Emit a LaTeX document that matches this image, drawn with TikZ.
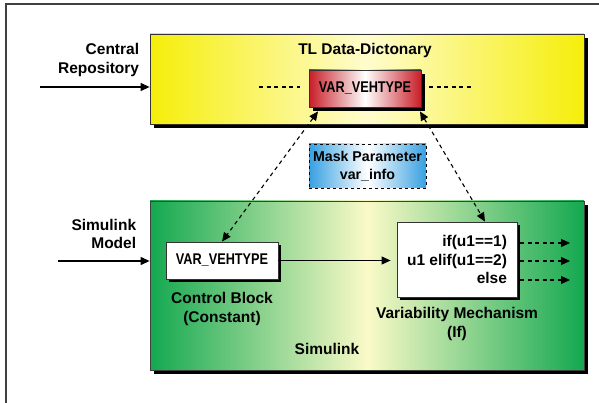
\documentclass[tikz,border=0pt]{standalone}
\usepackage{fontspec}
\setmainfont{Liberation Sans}
\newfontfamily\narrowfont[FakeStretch=0.82]{Liberation Sans}
\usetikzlibrary{arrows.meta,positioning,shadows}

\definecolor{dictyellow}{RGB}{245,238,10}
\definecolor{dictlight}{RGB}{255,252,205}
\definecolor{simgreen}{RGB}{20,168,80}
\definecolor{simlight}{RGB}{250,250,200}
\definecolor{varred}{RGB}{200,30,40}
\definecolor{maskblue}{RGB}{55,160,225}

\begin{document}
\begin{tikzpicture}[x=1pt, y=-1pt, >={Triangle[length=9pt,width=8pt]}, line width=1.1pt,
  every node/.style={font=\bfseries\fontsize{15.5}{18.5}\selectfont}]
% styles
\tikzstyle{shad}=[drop shadow={shadow xshift=4pt,shadow yshift=-4pt,fill=black,opacity=1}]
\tikzstyle{dict}=[rectangle,draw=black!80,line width=0.8pt,shad,left color=dictyellow,right color=dictyellow,middle color=dictlight]
\tikzstyle{sim}=[rectangle,draw=black!75,line width=0.8pt,shad,left color=simgreen,right color=simgreen,middle color=simlight]
\tikzstyle{varbox}=[rectangle,draw=black!80,line width=0.8pt,shad,left color=varred,right color=varred,middle color=white,minimum width=112pt,minimum height=37pt,font=\narrowfont\bfseries\fontsize{15.5}{18}\selectfont]
\tikzstyle{mask}=[rectangle,draw,dashed,line width=0.8pt,left color=maskblue,right color=maskblue,middle color=white,minimum width=117pt,minimum height=44pt,align=center,font=\bfseries\fontsize{14.2}{18}\selectfont]
\tikzstyle{block}=[rectangle,draw=black!80,line width=0.8pt,fill=white,drop shadow={shadow xshift=3pt,shadow yshift=-3pt,fill=black,opacity=1},minimum width=112pt,minimum height=37pt]
\tikzstyle{conn}=[dashed,dash pattern=on 4pt off 3.5pt]

\useasboundingbox (0,0) rectangle (599,403);
\fill[white] (0,0) rectangle (599,403);

% frame
\draw[line width=1.4pt,black!75] (6,410) -- (6,4) -- (610,4);

% data dictionary
\node[dict,minimum width=434pt,minimum height=90pt] (dict) at (367,79) {};
\node (dicttitle) at (365,50) {TL Data-Dictonary};
\node[varbox] (var) at (365,88.5) {VAR\_VEHTYPE};
\coordinate (dl) at (259,87);
\coordinate (dr) at (472,87);
\draw[conn] (dl) -- ([xshift=-9pt]dl -| var.west);
\draw[conn] ([xshift=8pt]dr -| var.east) -- (dr);

% repository input
\node[anchor=east,align=right] (repolbl) at (143,60) {Central\\Repository};
\coordinate (repoin) at (40,87);
\draw[->] (repoin) -- (repoin -| dict.west);

% mask parameter
\node[mask] (mask) at (367.5,166) {Mask Parameter\\var\_info};

% simulink model
\node[sim,minimum width=434pt,minimum height=169pt] (sim) at (367,285.5) {};
\node (simlbl) at (327,349) {Simulink};
\node[anchor=east,align=right] (modellbl) at (140,234) {Simulink\\Model};
\coordinate (simin) at (58,261);
\draw[->] (simin) -- (simin -| sim.west);

% blocks
\node[block,font=\narrowfont\bfseries\fontsize{15.5}{18}\selectfont] (ctrl) at (222,260.5) {VAR\_VEHTYPE};
\node[align=center] (ctrllbl) at (222,309) {Control Block\\(Constant)};
\node[block,minimum width=120pt,minimum height=75pt,align=right] (ifblk) at (457,259.5) {if(u1==1)\\u1 elif(u1==2)\\else};
\node[align=center] (iflbl) at (457,324) {Variability Mechanism\\(If)};

% arrows
\draw[->,shorten >=6pt] (ctrl.east) -- (ctrl.east -| ifblk.west);
\draw[<->,conn] ([xshift=-47pt,yshift=-4pt]var.south) -- (ctrl.north);
\draw[<->,conn] ([xshift=55pt,yshift=-4pt]var.south) -- ([xshift=28pt]ifblk.north);

\foreach \n/\y in {1/243,2/261,3/280}{
  \coordinate (out\n) at (570,\y);
  \draw[->,conn,shorten <=3pt] (ifblk.east |- out\n) -- (out\n);
}

\end{tikzpicture}
\end{document}
